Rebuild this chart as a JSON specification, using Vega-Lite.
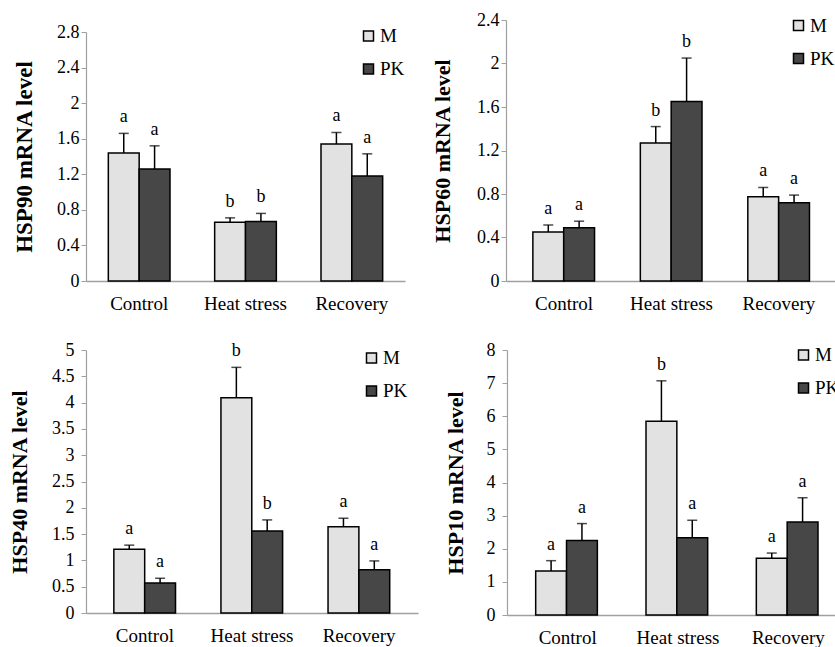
{
  "$schema": "https://vega.github.io/schema/vega-lite/v6.json",
  "padding": {"left": 8, "top": 11, "right": 0, "bottom": 0},
  "background": "white",
  "config": {
    "view": {"stroke": null},
    "font": "Liberation Serif",
    "axis": {"labelFont": "Liberation Serif", "titleFont": "Liberation Serif", "labelColor": "black", "titleColor": "black", "domainColor": "#a0a0a0", "tickColor": "#a0a0a0", "grid": false, "labelFontSize": 18, "labelOverlap": false},
    "axisY": {"tickSize": 5, "titleFontSize": 22, "titleFontWeight": "bold", "domainWidth": 1.2, "labelPadding": 2},
    "axisX": {"ticks": false, "labelAngle": 0, "labelPadding": 13, "domainWidth": 1.5, "title": null, "labelFontSize": 19},
    "legend": {"orient": "none", "title": null, "labelFont": "Liberation Serif", "labelFontSize": 19, "labelColor": "black", "symbolType": "square", "symbolSize": 100, "symbolStrokeColor": "black", "symbolStrokeWidth": 1.5, "rowPadding": 13, "labelOffset": 2, "padding": 0}
  },
  "datasets": {
    "hsp": [
      {"gene": "HSP90", "treatment": "Control", "line": "M", "value": 1.44, "err": 1.66, "letter": "a"},
      {"gene": "HSP90", "treatment": "Control", "line": "PK", "value": 1.26, "err": 1.52, "letter": "a"},
      {"gene": "HSP90", "treatment": "Heat stress", "line": "M", "value": 0.66, "err": 0.71, "letter": "b"},
      {"gene": "HSP90", "treatment": "Heat stress", "line": "PK", "value": 0.67, "err": 0.76, "letter": "b"},
      {"gene": "HSP90", "treatment": "Recovery", "line": "M", "value": 1.54, "err": 1.67, "letter": "a"},
      {"gene": "HSP90", "treatment": "Recovery", "line": "PK", "value": 1.18, "err": 1.43, "letter": "a"},
      {"gene": "HSP60", "treatment": "Control", "line": "M", "value": 0.45, "err": 0.515, "letter": "a"},
      {"gene": "HSP60", "treatment": "Control", "line": "PK", "value": 0.49, "err": 0.55, "letter": "a"},
      {"gene": "HSP60", "treatment": "Heat stress", "line": "M", "value": 1.27, "err": 1.42, "letter": "b"},
      {"gene": "HSP60", "treatment": "Heat stress", "line": "PK", "value": 1.65, "err": 2.05, "letter": "b"},
      {"gene": "HSP60", "treatment": "Recovery", "line": "M", "value": 0.775, "err": 0.86, "letter": "a"},
      {"gene": "HSP60", "treatment": "Recovery", "line": "PK", "value": 0.72, "err": 0.79, "letter": "a"},
      {"gene": "HSP40", "treatment": "Control", "line": "M", "value": 1.21, "err": 1.29, "letter": "a"},
      {"gene": "HSP40", "treatment": "Control", "line": "PK", "value": 0.57, "err": 0.66, "letter": "a"},
      {"gene": "HSP40", "treatment": "Heat stress", "line": "M", "value": 4.09, "err": 4.67, "letter": "b"},
      {"gene": "HSP40", "treatment": "Heat stress", "line": "PK", "value": 1.56, "err": 1.77, "letter": "b"},
      {"gene": "HSP40", "treatment": "Recovery", "line": "M", "value": 1.64, "err": 1.8, "letter": "a"},
      {"gene": "HSP40", "treatment": "Recovery", "line": "PK", "value": 0.82, "err": 0.99, "letter": "a"},
      {"gene": "HSP10", "treatment": "Control", "line": "M", "value": 1.33, "err": 1.64, "letter": "a"},
      {"gene": "HSP10", "treatment": "Control", "line": "PK", "value": 2.25, "err": 2.76, "letter": "a"},
      {"gene": "HSP10", "treatment": "Heat stress", "line": "M", "value": 5.85, "err": 7.07, "letter": "b"},
      {"gene": "HSP10", "treatment": "Heat stress", "line": "PK", "value": 2.33, "err": 2.86, "letter": "a"},
      {"gene": "HSP10", "treatment": "Recovery", "line": "M", "value": 1.71, "err": 1.87, "letter": "a"},
      {"gene": "HSP10", "treatment": "Recovery", "line": "PK", "value": 2.81, "err": 3.54, "letter": "a"}
    ]
  },
  "vconcat": [
    {
      "bounds": "flush",
      "hconcat": [
        {
          "width": 319, "height": 261,
          "data": {"name": "hsp"},
          "transform": [{"filter": "datum.gene === 'HSP90'"}],
          "encoding": {
            "x": {"field": "treatment", "type": "nominal", "sort": ["Control", "Heat stress", "Recovery"], "scale": {"paddingInner": 0.42, "paddingOuter": 0.21}},
            "xOffset": {"field": "line", "type": "nominal", "sort": ["M", "PK"]}
          },
          "layer": [
            {"mark": {"type": "bar", "stroke": "black", "strokeWidth": 1.5},
             "encoding": {
               "y": {"field": "value", "type": "quantitative", "scale": {"domain": [0, 2.8], "range": [261, 12]}, "axis": {"values": [0, 0.4, 0.8, 1.2, 1.6, 2, 2.4, 2.8], "tickCount": 12, "format": "~g", "title": "HSP90 mRNA level", "titleFontSize": 23, "titlePadding": 20}},
               "fill": {"field": "line", "type": "nominal", "scale": {"domain": ["M", "PK"], "range": ["#e2e2e2", "#474747"]}, "legend": {"legendX": 273, "legendY": 6.5}}
             }},
            {"mark": {"type": "rule", "color": "black", "strokeWidth": 1.5},
             "encoding": {"y": {"field": "value", "type": "quantitative"}, "y2": {"field": "err"}}},
            {"mark": {"type": "tick", "color": "black", "thickness": 1.5, "size": 10},
             "encoding": {"y": {"field": "err", "type": "quantitative"}}},
            {"mark": {"type": "text", "baseline": "bottom", "dy": -7, "fontSize": 18, "font": "Liberation Serif", "color": "black"},
             "encoding": {"y": {"field": "err", "type": "quantitative"}, "text": {"field": "letter"}}}
          ]
        },
        {
          "width": 331, "height": 261,
          "data": {"name": "hsp"},
          "transform": [{"filter": "datum.gene === 'HSP60'"}],
          "encoding": {
            "x": {"field": "treatment", "type": "nominal", "sort": ["Control", "Heat stress", "Recovery"], "scale": {"paddingInner": 0.42, "paddingOuter": 0.25}},
            "xOffset": {"field": "line", "type": "nominal", "sort": ["M", "PK"]}
          },
          "layer": [
            {"mark": {"type": "bar", "stroke": "black", "strokeWidth": 1.5},
             "encoding": {
               "y": {"field": "value", "type": "quantitative", "scale": {"domain": [0, 2.4]}, "axis": {"values": [0, 0.4, 0.8, 1.2, 1.6, 2, 2.4], "tickCount": 12, "format": "~g", "title": "HSP60 mRNA level", "titlePadding": 22}},
               "fill": {"field": "line", "type": "nominal", "scale": {"domain": ["M", "PK"], "range": ["#e2e2e2", "#474747"]}, "legend": {"legendX": 283, "legendY": -4}}
             }},
            {"mark": {"type": "rule", "color": "black", "strokeWidth": 1.5},
             "encoding": {"y": {"field": "value", "type": "quantitative"}, "y2": {"field": "err"}}},
            {"mark": {"type": "tick", "color": "black", "thickness": 1.5, "size": 10},
             "encoding": {"y": {"field": "err", "type": "quantitative"}}},
            {"mark": {"type": "text", "baseline": "bottom", "dy": -7, "fontSize": 18, "font": "Liberation Serif", "color": "black"},
             "encoding": {"y": {"field": "err", "type": "quantitative"}, "text": {"field": "letter"}}}
          ]
        }
      ],
      "spacing": 101,
      "resolve": {"scale": {"fill": "independent"}, "legend": {"fill": "independent"}}
    },
    {
      "bounds": "flush",
      "hconcat": [
        {
          "width": 332, "height": 263,
          "data": {"name": "hsp"},
          "transform": [{"filter": "datum.gene === 'HSP40'"}],
          "encoding": {
            "x": {"field": "treatment", "type": "nominal", "sort": ["Control", "Heat stress", "Recovery"], "scale": {"paddingInner": 0.42, "paddingOuter": 0.26}},
            "xOffset": {"field": "line", "type": "nominal", "sort": ["M", "PK"]}
          },
          "layer": [
            {"mark": {"type": "bar", "stroke": "black", "strokeWidth": 1.5},
             "encoding": {
               "y": {"field": "value", "type": "quantitative", "scale": {"domain": [0, 5]}, "axis": {"values": [0, 0.5, 1, 1.5, 2, 2.5, 3, 3.5, 4, 4.5, 5], "tickCount": 12, "format": "~g", "title": "HSP40 mRNA level", "titlePadding": 20, "labelPadding": 7}},
               "fill": {"field": "line", "type": "nominal", "scale": {"domain": ["M", "PK"], "range": ["#e2e2e2", "#474747"]}, "legend": {"legendX": 276, "legendY": -1.5}}
             }},
            {"mark": {"type": "rule", "color": "black", "strokeWidth": 1.5},
             "encoding": {"y": {"field": "value", "type": "quantitative"}, "y2": {"field": "err"}}},
            {"mark": {"type": "tick", "color": "black", "thickness": 1.5, "size": 10},
             "encoding": {"y": {"field": "err", "type": "quantitative"}}},
            {"mark": {"type": "text", "baseline": "bottom", "dy": -7, "fontSize": 18, "font": "Liberation Serif", "color": "black"},
             "encoding": {"y": {"field": "err", "type": "quantitative"}, "text": {"field": "letter"}}}
          ]
        },
        {
          "width": 342, "height": 265,
          "data": {"name": "hsp"},
          "transform": [{"filter": "datum.gene === 'HSP10'"}],
          "encoding": {
            "x": {"field": "treatment", "type": "nominal", "sort": ["Control", "Heat stress", "Recovery"], "scale": {"paddingInner": 0.42, "paddingOuter": 0.26}},
            "xOffset": {"field": "line", "type": "nominal", "sort": ["M", "PK"]}
          },
          "layer": [
            {"mark": {"type": "bar", "stroke": "black", "strokeWidth": 1.5},
             "encoding": {
               "y": {"field": "value", "type": "quantitative", "scale": {"domain": [0, 8]}, "axis": {"values": [0, 1, 2, 3, 4, 5, 6, 7, 8], "tickCount": 12, "format": "~g", "title": "HSP10 mRNA level", "titlePadding": 19, "labelPadding": 7}},
               "fill": {"field": "line", "type": "nominal", "scale": {"domain": ["M", "PK"], "range": ["#e2e2e2", "#474747"]}, "legend": {"legendX": 287, "legendY": -4.5}}
             }},
            {"mark": {"type": "rule", "color": "black", "strokeWidth": 1.5},
             "encoding": {"y": {"field": "value", "type": "quantitative"}, "y2": {"field": "err"}}},
            {"mark": {"type": "tick", "color": "black", "thickness": 1.5, "size": 10},
             "encoding": {"y": {"field": "err", "type": "quantitative"}}},
            {"mark": {"type": "text", "baseline": "bottom", "dy": -7, "fontSize": 18, "font": "Liberation Serif", "color": "black"},
             "encoding": {"y": {"field": "err", "type": "quantitative"}, "text": {"field": "letter"}}}
          ]
        }
      ],
      "spacing": 89,
      "resolve": {"scale": {"fill": "independent"}, "legend": {"fill": "independent"}}
    }
  ],
  "spacing": 28
}
